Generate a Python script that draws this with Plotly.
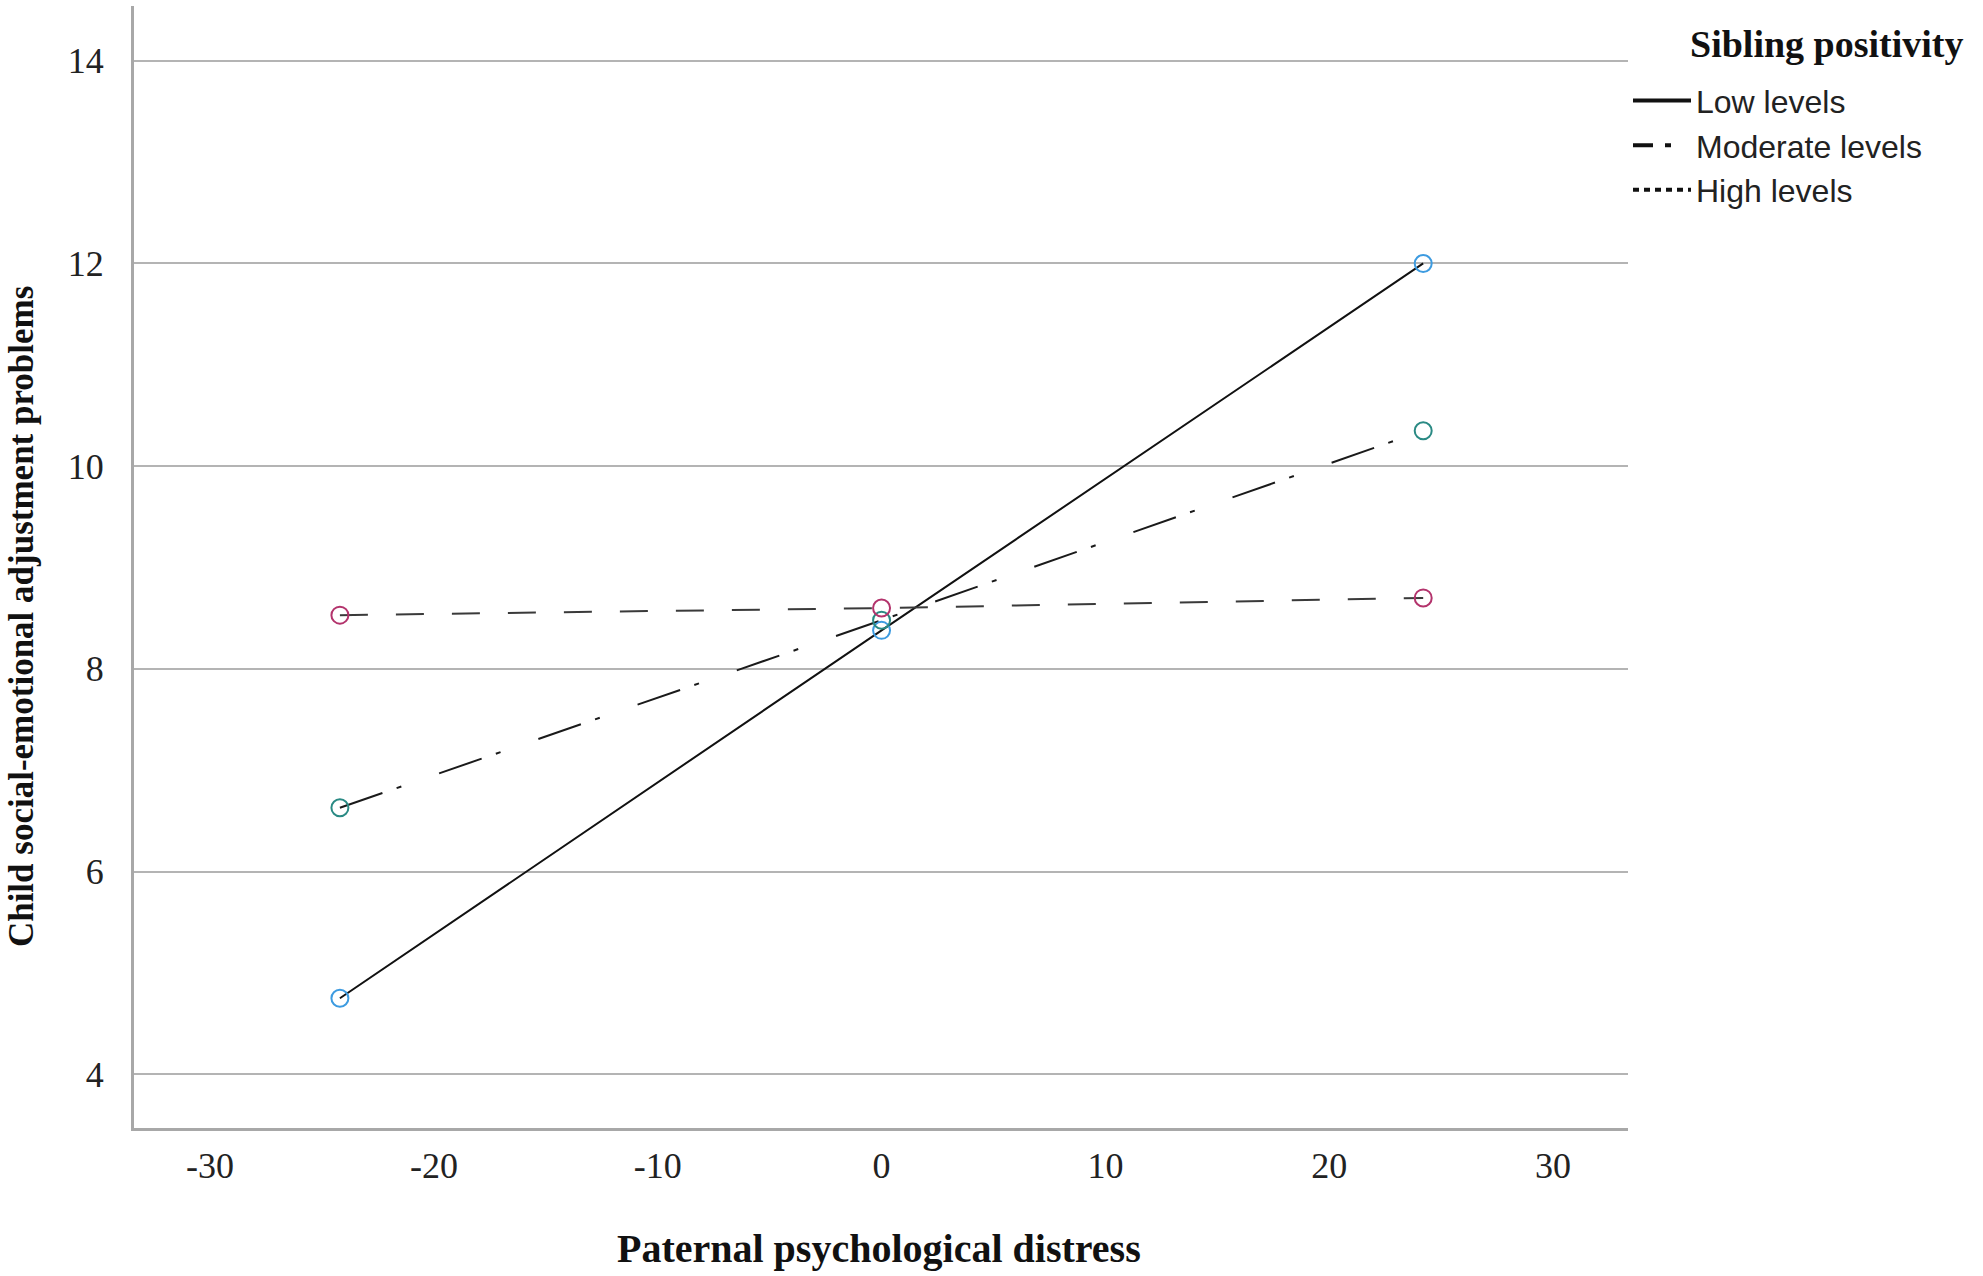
import plotly.graph_objects as go

# Simple slopes: paternal distress (x) by sibling positivity level
distress = [-24.2, 0, 24.2]

niveles = ["Low levels", "Moderate levels", "High levels"]
low_vals = [4.75, 8.38, 12.0]
moderate_vals = [6.63, 8.48, 10.35]
high_vals = [8.53, 8.60, 8.70]

serie_vals = [low_vals, moderate_vals, high_vals]
line_dash = ["solid", "45px,15px,5px,40px", "28px,28px"]
legend_dash = ["solid", "20px,12px,6px,30px", "6px,5px"]
line_color = ["#111111", "#1a1a1a", "#3a3a3a"]
marker_color = ["#3d9be0", "#2a8a84", "#b3336c"]

y_ticks = [4, 6, 8, 10, 12, 14]
x_ticks = [-30, -20, -10, 0, 10, 20, 30]

fig = go.Figure()

for vals, dash, lc in zip(serie_vals, line_dash, line_color):
    fig.add_trace(go.Scatter(
        x=distress, y=vals, mode="lines", showlegend=False,
        line=dict(color=lc, width=2, dash=dash),
    ))

for vals, mc in zip(serie_vals, marker_color):
    fig.add_trace(go.Scatter(
        x=distress, y=vals, mode="markers", showlegend=False,
        marker=dict(symbol="circle-open", size=17, color=mc,
                    line=dict(width=2, color=mc)),
    ))

# legend-only entries (thicker samples, like the original key)
for nombre, dash in zip(niveles, legend_dash):
    fig.add_trace(go.Scatter(
        x=[None], y=[None], mode="lines", name=nombre,
        line=dict(color="#111111", width=4, dash=dash),
    ))

fig.update_layout(
    width=1983,
    height=1276,
    margin=dict(l=134, r=355, t=6, b=148),
    plot_bgcolor="white",
    paper_bgcolor="white",
    font=dict(family="Liberation Serif", color="#111111"),
    legend=dict(
        x=(1628 - 134) / 1494, y=0.94, xanchor="left", yanchor="top",
        font=dict(family="Liberation Sans", size=32, color="#222222"),
        tracegroupgap=0, itemwidth=58,
        bgcolor="rgba(0,0,0,0)",
    ),
    annotations=[
        dict(text="<b>Sibling positivity</b>", xref="paper", yref="paper",
             x=(1688 - 134) / 1494, y=0.966, xanchor="left", yanchor="middle",
             showarrow=False,
             font=dict(family="Liberation Serif", size=38, color="#111111")),
        dict(text="<b>Paternal psychological distress</b>", xref="paper", yref="paper",
             x=0.4987, y=-0.107, xanchor="center", yanchor="middle",
             showarrow=False,
             font=dict(family="Liberation Serif", size=40, color="#111111")),
        dict(text="<b>Child social-emotional adjustment problems</b>",
             xref="paper", yref="paper", textangle=-90,
             x=-0.0756, y=0.4554, xanchor="center", yanchor="middle",
             showarrow=False,
             font=dict(family="Liberation Serif", size=35, color="#111111")),
    ],
)

fig.update_xaxes(
    range=[-33.4, 33.35],
    tickvals=x_ticks,
    ticktext=[str(v) for v in x_ticks],
    tickfont=dict(family="Liberation Serif", size=36, color="#222222"),
    showgrid=False, zeroline=False,
    showline=True, linecolor="#a8a8a8", linewidth=3,
    ticks="", ticklabelstandoff=4,
)

fig.update_yaxes(
    range=[3.47, 14.54],
    tickvals=y_ticks,
    ticktext=[str(v) for v in y_ticks],
    tickfont=dict(family="Liberation Serif", size=36, color="#222222"),
    showgrid=True, gridcolor="#b4b4b4", gridwidth=1.5,
    zeroline=False,
    showline=True, linecolor="#a8a8a8", linewidth=3,
    ticks="", ticklabelstandoff=20,
)

fig.write_html(
    "out.html",
    config={"displayModeBar": False},
    post_script="document.body.style.margin = '0';",
)
